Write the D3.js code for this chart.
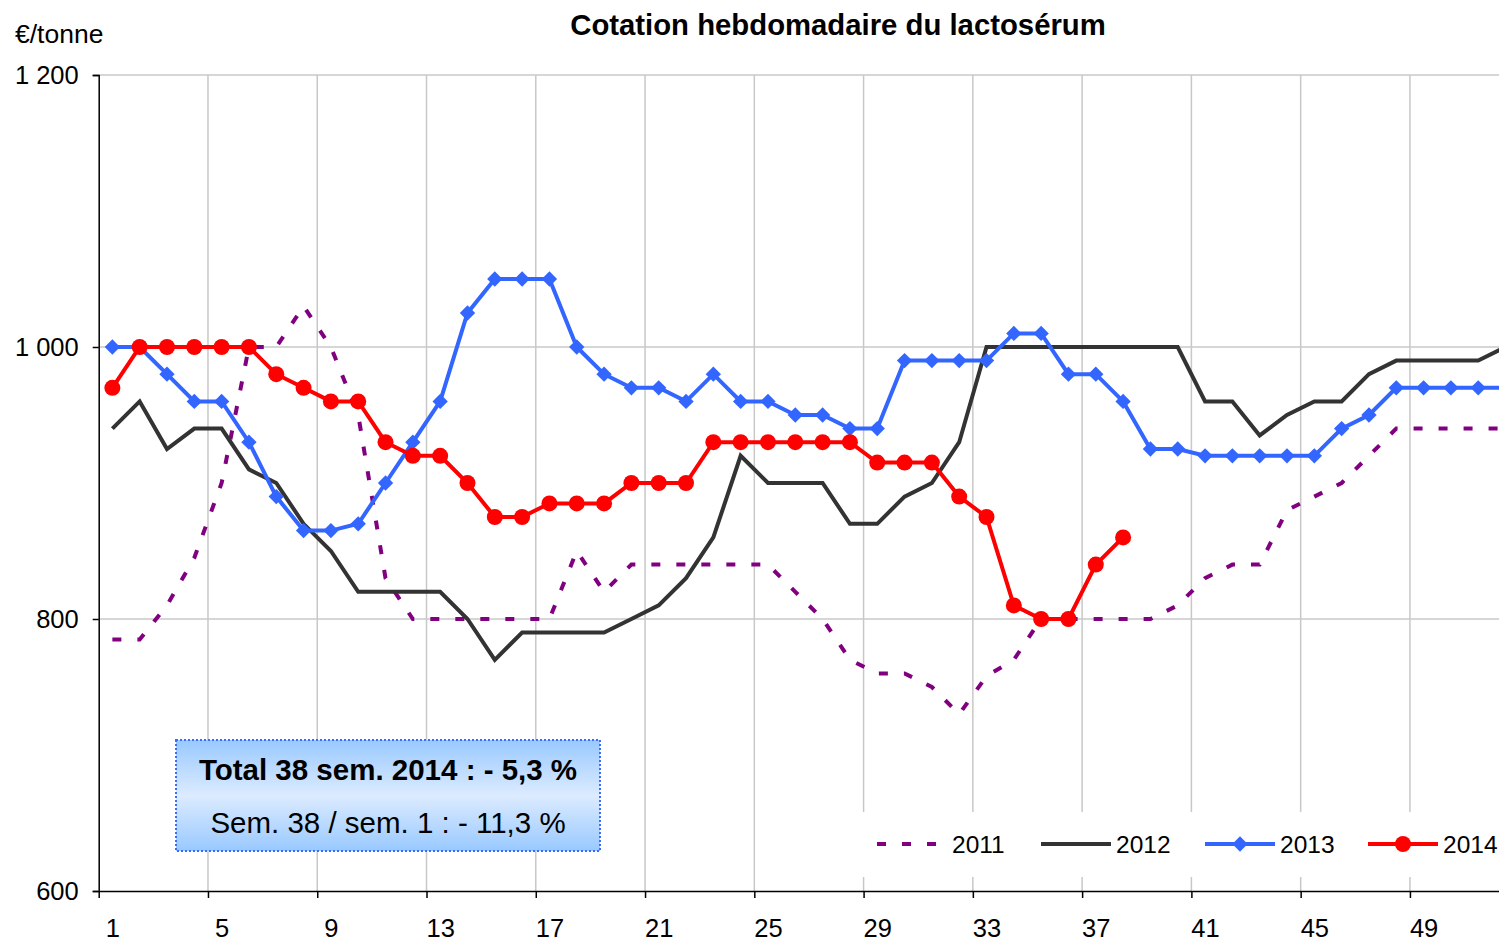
<!DOCTYPE html>
<html>
<head>
<meta charset="utf-8">
<script src="https://cdn.jsdelivr.net/npm/d3@7"></script>
<style>
  html, body { margin: 0; padding: 0; background: #fff; }
  svg { display: block; font-family: "Liberation Sans", Arial, sans-serif; }
</style>
</head>
<body>
<svg id="chart" width="1499" height="941"></svg>
<script>
// Weekly whey quotation, €/tonne, weeks 1..52
const weeks = d3.range(1, 53);
const years = ["2011", "2012", "2013", "2014"];

const values2011 = [785, 785, 810, 845, 900, 1000, 1000, 1030, 1000, 950,
  830, 800, 800, 800, 800, 800, 800, 850, 820, 840,
  840, 840, 840, 840, 840, 820, 800, 770, 760, 760,
  750, 730, 758, 770, 800, 800, 800, 800, 800, 810,
  830, 840, 840, 880, 890, 900, 920, 940, 940, 940,
  940, 940];

const values2012 = [940, 960, 925, 940, 940, 910, 900, 870, 850, 820,
  820, 820, 820, 800, 770, 790, 790, 790, 790, 800,
  810, 830, 860, 920, 900, 900, 900, 870, 870, 890,
  900, 930, 1000, 1000, 1000, 1000, 1000, 1000, 1000, 1000,
  960, 960, 935, 950, 960, 960, 980, 990, 990, 990,
  990, 1000];

const values2013 = [1000, 1000, 980, 960, 960, 930, 890, 865, 865, 870,
  900, 930, 960, 1025, 1050, 1050, 1050, 1000, 980, 970,
  970, 960, 980, 960, 960, 950, 950, 940, 940, 990,
  990, 990, 990, 1010, 1010, 980, 980, 960, 925, 925,
  920, 920, 920, 920, 920, 940, 950, 970, 970, 970,
  970, 970];

const values2014 = [970, 1000, 1000, 1000, 1000, 1000, 980, 970, 960, 960,
  930, 920, 920, 900, 875, 875, 885, 885, 885, 900,
  900, 900, 930, 930, 930, 930, 930, 930, 915, 915,
  915, 890, 875, 810, 800, 800, 840, 860];

const yTicks = [600, 800, 1000, 1200];
const xLabelWeeks = [1, 5, 9, 13, 17, 21, 25, 29, 33, 37, 41, 45, 49];
const xBoundaries = d3.range(0.5, 53, 4);   // 0.5, 4.5, ... 52.5

const titleText = "Cotation hebdomadaire du lactosérum";
const unitText = "€/tonne";
const noteLines = ["Total 38 sem. 2014 : - 5,3 %", "Sem. 38 / sem. 1 : - 11,3 %"];

const seriesList = [
  { name: years[0], values: values2011, color: "#800080", dash: "9,16", marker: null },
  { name: years[1], values: values2012, color: "#333333", dash: null, marker: null },
  { name: years[2], values: values2013, color: "#3366ff", dash: null, marker: "diamond" },
  { name: years[3], values: values2014, color: "#ff0000", dash: null, marker: "circle" }
];

const svg = d3.select("#chart");

// plot area
const x = d3.scaleLinear().domain([0.5, 52.5]).range([98.7, 1519.2]);
const y = d3.scaleLinear().domain([600, 1200]).range([891, 75]);

const fr = d3.formatLocale({ decimal: ",", thousands: "\u00a0", grouping: [3], currency: ["", " €"] });
const fmt = fr.format(",d");

// gridlines
const grid = svg.append("g").attr("class", "grid");
grid.selectAll("line.v").data(xBoundaries.slice(1)).join("line")
  .attr("x1", d => x(d)).attr("x2", d => x(d))
  .attr("y1", y(1200)).attr("y2", y(600))
  .attr("stroke", "#c8c8c8").attr("stroke-width", 1.5);
grid.selectAll("line.h").data(yTicks.slice(1)).join("line")
  .attr("x1", x(0.5)).attr("x2", x(52.5))
  .attr("y1", d => y(d)).attr("y2", d => y(d))
  .attr("stroke", "#c8c8c8").attr("stroke-width", 1.5);

// y axis
const yAxis = svg.append("g")
  .attr("transform", `translate(${x(0.5)},0)`)
  .call(d3.axisLeft(y).tickValues(yTicks).tickFormat(fmt).tickSize(6).tickPadding(14));
yAxis.select(".domain").attr("stroke", "#000").attr("stroke-width", 1.5);
yAxis.selectAll(".tick line").attr("stroke", "#000").attr("stroke-width", 1.5);
yAxis.selectAll(".tick text").attr("font-size", 25.5).attr("fill", "#000")
  .attr("font-family", "Liberation Sans, Arial, sans-serif");

// x axis: tick marks on week boundaries, labels on weeks
const xAxis = svg.append("g")
  .attr("transform", `translate(0,${y(600)})`)
  .call(d3.axisBottom(x).tickValues(xBoundaries).tickFormat("").tickSize(7).tickSizeOuter(0));
xAxis.select(".domain").attr("stroke", "#000").attr("stroke-width", 1.5);
xAxis.selectAll(".tick line").attr("stroke", "#000").attr("stroke-width", 1.5);

const xLabels = svg.append("g")
  .attr("transform", `translate(0,${y(600)})`)
  .call(d3.axisBottom(x).tickValues(xLabelWeeks).tickFormat(d3.format("d")).tickSize(0).tickPadding(28));
xLabels.select(".domain").remove();
xLabels.selectAll(".tick text").attr("font-size", 25.5).attr("fill", "#000")
  .attr("font-family", "Liberation Sans, Arial, sans-serif");

// series lines
const line = d3.line().x((d, i) => x(i + 1)).y(d => y(d));
const diamond = d3.symbol().type(d3.symbolDiamond2).size(150);

seriesList.forEach(s => {
  const g = svg.append("g").attr("class", "series-" + s.name);
  g.append("path")
    .datum(s.values)
    .attr("d", line)
    .attr("fill", "none")
    .attr("stroke", s.color)
    .attr("stroke-width", 4)
    .attr("stroke-linejoin", "miter")
    .attr("stroke-dasharray", s.dash);
  if (s.marker === "circle") {
    g.selectAll("circle").data(s.values).join("circle")
      .attr("cx", (d, i) => x(i + 1)).attr("cy", d => y(d))
      .attr("r", 8).attr("fill", s.color);
  } else if (s.marker === "diamond") {
    g.selectAll("path.m").data(s.values).join("path").attr("class", "m")
      .attr("transform", (d, i) => `translate(${x(i + 1)},${y(d)})`)
      .attr("d", diamond).attr("fill", s.color);
  }
});

// title and unit
svg.append("text")
  .attr("x", 838).attr("y", 35)
  .attr("text-anchor", "middle")
  .attr("font-size", 29.3).attr("font-weight", "bold")
  .text(titleText);

svg.append("text")
  .attr("x", 15).attr("y", 43)
  .attr("font-size", 26.5)
  .text(unitText);

// summary note box
const defs = svg.append("defs");
const grad = defs.append("linearGradient").attr("id", "noteFill")
  .attr("x1", 0).attr("y1", 0).attr("x2", 0).attr("y2", 1);
grad.append("stop").attr("offset", "0%").attr("stop-color", "#99c9ff");
grad.append("stop").attr("offset", "50%").attr("stop-color", "#dcebff");
grad.append("stop").attr("offset", "100%").attr("stop-color", "#99c9ff");

const note = svg.append("g");
note.append("rect")
  .attr("x", 176).attr("y", 740).attr("width", 424).attr("height", 111)
  .attr("fill", "url(#noteFill)")
  .attr("stroke", "#3a6cff").attr("stroke-width", 2).attr("stroke-dasharray", "2,2");
note.append("text")
  .attr("x", 388).attr("y", 780).attr("text-anchor", "middle")
  .attr("font-size", 29.5).attr("font-weight", "bold")
  .text(noteLines[0]);
note.append("text")
  .attr("x", 388).attr("y", 833).attr("text-anchor", "middle")
  .attr("font-size", 29.5)
  .text(noteLines[1]);

// legend
const legend = svg.append("g");
legend.append("rect")
  .attr("x", 862).attr("y", 812).attr("width", 660).attr("height", 65)
  .attr("fill", "#fff");
const legendX = [877, 1041, 1205, 1368];
seriesList.forEach((s, i) => {
  const lx = legendX[i], ly = 844;
  const lg = legend.append("g");
  lg.append("line")
    .attr("x1", lx).attr("x2", lx + 70).attr("y1", ly).attr("y2", ly)
    .attr("stroke", s.color).attr("stroke-width", 4)
    .attr("stroke-dasharray", s.dash);
  if (s.marker === "circle") {
    lg.append("circle").attr("cx", lx + 35).attr("cy", ly).attr("r", 8).attr("fill", s.color);
  } else if (s.marker === "diamond") {
    lg.append("path").attr("transform", `translate(${lx + 35},${ly})`)
      .attr("d", diamond).attr("fill", s.color);
  }
  lg.append("text")
    .attr("x", lx + 75).attr("y", ly + 9)
    .attr("font-size", 24.5)
    .text(s.name);
});
</script>
</body>
</html>
